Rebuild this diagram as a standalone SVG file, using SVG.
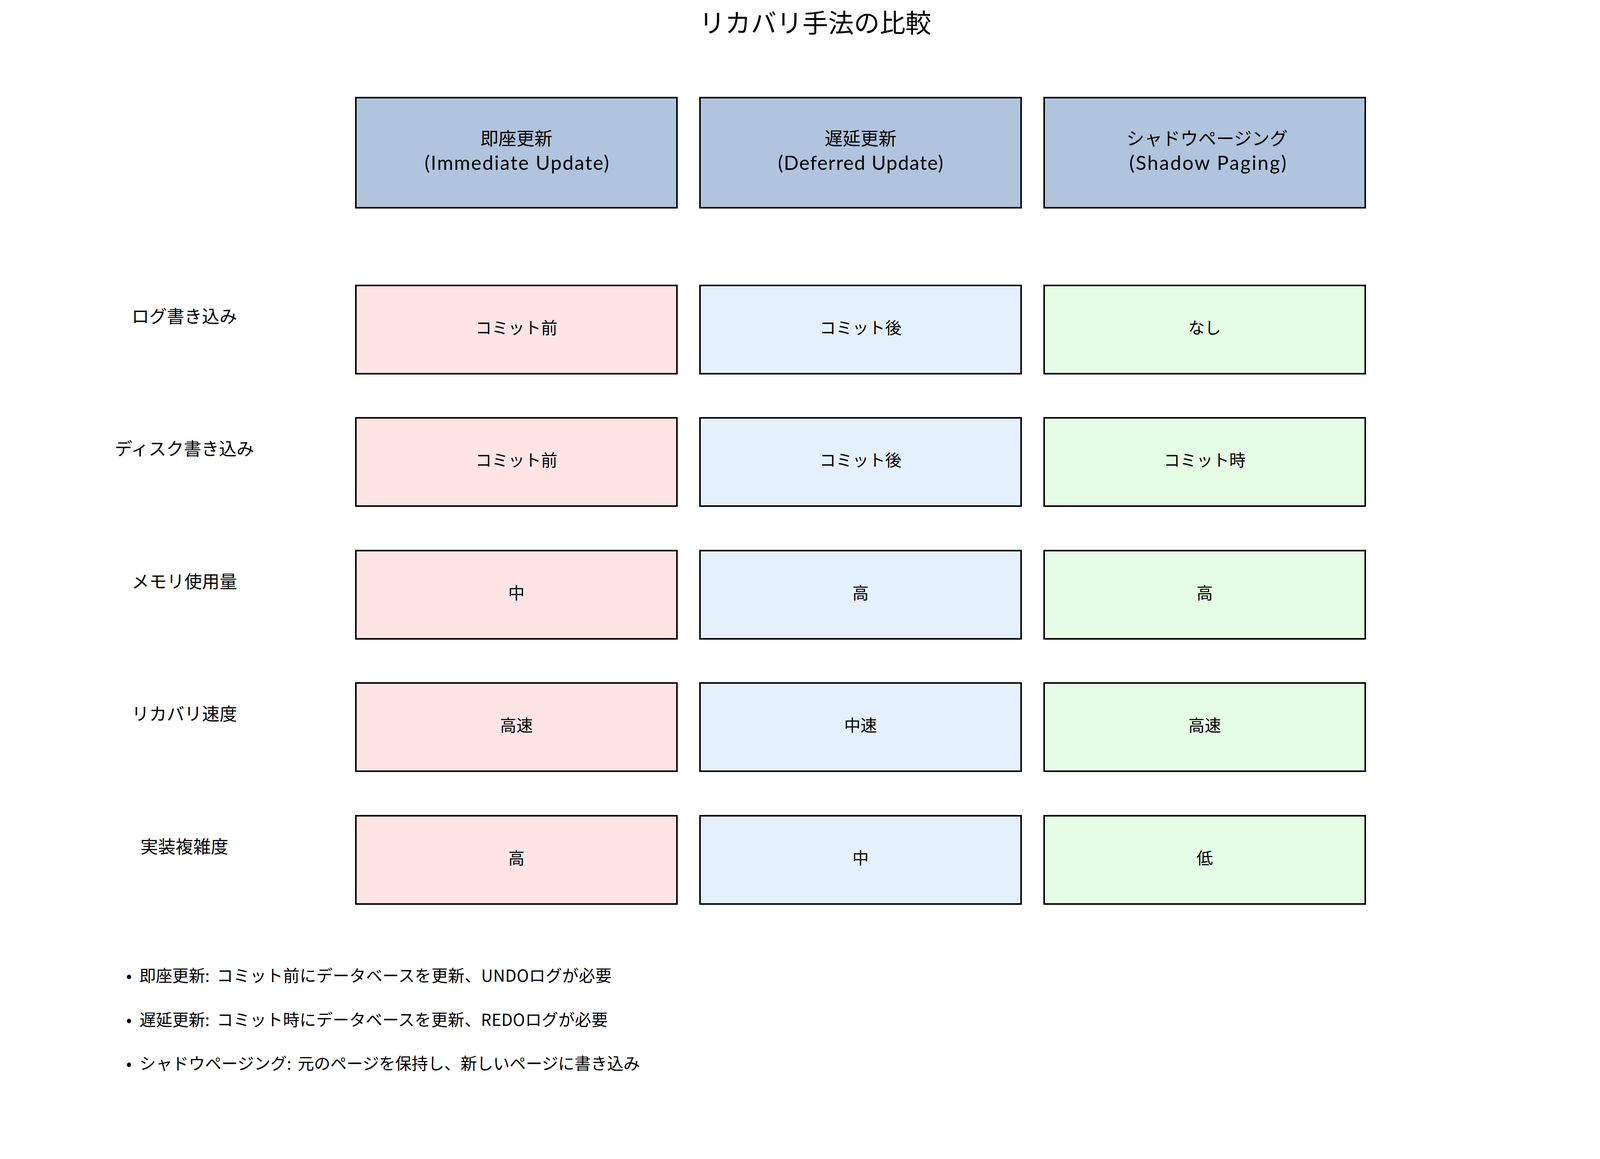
<svg xmlns="http://www.w3.org/2000/svg" width="4170" height="2968" viewBox="0 0 4170 2968">
<style>
text{font-family:"Noto Sans CJK JP","Noto Sans",sans-serif;fill:#000}
.box{stroke:#000;stroke-width:4}
.hdr{fill:#B0C4DE}
.c1{fill:#FFE4E4}
.c2{fill:#E4F1FC}
.c3{fill:#E5FDE5}
.title{font-size:66px;text-anchor:middle}
.h{font-size:46px;text-anchor:middle}
.hl{font-family:Lato,"Noto Sans",sans-serif;font-size:50px;text-anchor:middle}
.lbl{font-size:45px;text-anchor:middle}
.cell{font-size:42px;text-anchor:middle}
.note{font-size:42px}
</style>
<rect width="4170" height="2968" fill="#fff"/>
<g id="title"><text class="title" x="2087" y="83">リカバリ手法の比較</text></g>
<g id="connectors"></g>
<g id="hdr-immediate"><rect class="box hdr" x="911" y="250" width="822" height="282"/><text class="h" x="1322" y="371">即座更新</text><text class="hl" x="1323" y="435" textLength="472" lengthAdjust="spacing">(Immediate Update)</text></g>
<g id="hdr-deferred"><rect class="box hdr" x="1792" y="250" width="822" height="282"/><text class="h" x="2203" y="371">遅延更新</text><text class="hl" x="2203" y="435" textLength="423" lengthAdjust="spacing">(Deferred Update)</text></g>
<g id="hdr-shadow"><rect class="box hdr" x="2673" y="250" width="822" height="282"/><text class="h" x="3090" y="371">シャドウページング</text><text class="hl" x="3092" y="435" textLength="402" lengthAdjust="spacing">(Shadow Paging)</text></g>

<g id="label-log"><text class="lbl" x="472" y="827">ログ書き込み</text></g>
<g id="label-disk"><text class="lbl" x="472" y="1166">ディスク書き込み</text></g>
<g id="label-mem"><text class="lbl" x="472" y="1506">メモリ使用量</text></g>
<g id="label-speed"><text class="lbl" x="472" y="1845">リカバリ速度</text></g>
<g id="label-complex"><text class="lbl" x="472" y="2185">実装複雑度</text></g>

<g id="r1c1"><rect class="box c1" x="911" y="731" width="822" height="226"/><text class="cell" x="1322" y="855">コミット前</text></g>
<g id="r1c2"><rect class="box c2" x="1792" y="731" width="822" height="226"/><text class="cell" x="2203" y="855">コミット後</text></g>
<g id="r1c3"><rect class="box c3" x="2673" y="731" width="822" height="226"/><text class="cell" x="3084" y="855">なし</text></g>

<g id="r2c1"><rect class="box c1" x="911" y="1070" width="822" height="226"/><text class="cell" x="1322" y="1194">コミット前</text></g>
<g id="r2c2"><rect class="box c2" x="1792" y="1070" width="822" height="226"/><text class="cell" x="2203" y="1194">コミット後</text></g>
<g id="r2c3"><rect class="box c3" x="2673" y="1070" width="822" height="226"/><text class="cell" x="3084" y="1194">コミット時</text></g>

<g id="r3c1"><rect class="box c1" x="911" y="1410" width="822" height="226"/><text class="cell" x="1322" y="1534">中</text></g>
<g id="r3c2"><rect class="box c2" x="1792" y="1410" width="822" height="226"/><text class="cell" x="2203" y="1534">高</text></g>
<g id="r3c3"><rect class="box c3" x="2673" y="1410" width="822" height="226"/><text class="cell" x="3084" y="1534">高</text></g>

<g id="r4c1"><rect class="box c1" x="911" y="1749" width="822" height="226"/><text class="cell" x="1322" y="1873">高速</text></g>
<g id="r4c2"><rect class="box c2" x="1792" y="1749" width="822" height="226"/><text class="cell" x="2203" y="1873">中速</text></g>
<g id="r4c3"><rect class="box c3" x="2673" y="1749" width="822" height="226"/><text class="cell" x="3084" y="1873">高速</text></g>

<g id="r5c1"><rect class="box c1" x="911" y="2089" width="822" height="226"/><text class="cell" x="1322" y="2213">高</text></g>
<g id="r5c2"><rect class="box c2" x="1792" y="2089" width="822" height="226"/><text class="cell" x="2203" y="2213">中</text></g>
<g id="r5c3"><rect class="box c3" x="2673" y="2089" width="822" height="226"/><text class="cell" x="3084" y="2213">低</text></g>

<g id="notes">
<text class="note" y="2514"><tspan x="323">•</tspan><tspan x="357">即座更新:</tspan><tspan x="555" textLength="1011" lengthAdjust="spacing">コミット前にデータベースを更新、UNDOログが必要</tspan></text>
<text class="note" y="2627"><tspan x="323">•</tspan><tspan x="357">遅延更新:</tspan><tspan x="555" textLength="1001" lengthAdjust="spacing">コミット時にデータベースを更新、REDOログが必要</tspan></text>
<text class="note" y="2739"><tspan x="323">•</tspan><tspan x="357">シャドウページング:</tspan><tspan x="762" textLength="876" lengthAdjust="spacing">元のページを保持し、新しいページに書き込み</tspan></text>
</g>
</svg>
